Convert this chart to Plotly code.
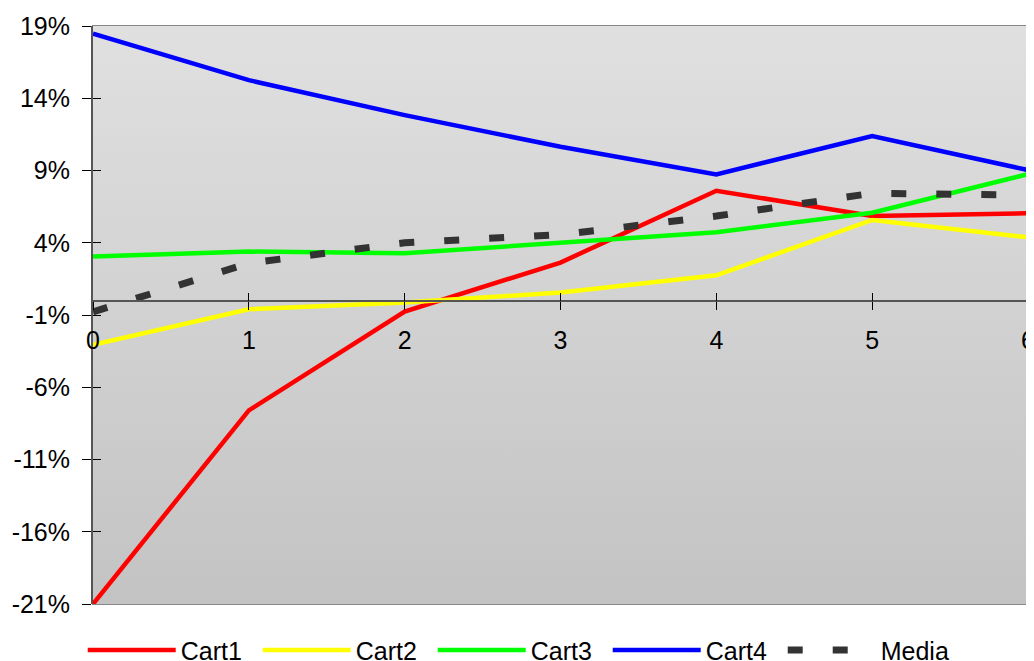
import plotly.graph_objects as go

x_vals = [0, 1, 2, 3, 4, 5, 6]
cart1 = [-21.0, -7.6, -0.76, 2.63, 7.6, 5.85, 6.04]
cart2 = [-3.06, -0.6, -0.14, 0.55, 1.75, 5.58, 4.38]
cart3 = [3.04, 3.39, 3.27, 4.03, 4.72, 6.08, 8.75]
cart4 = [18.47, 15.25, 12.83, 10.64, 8.73, 11.38, 9.03]
media = [-0.78, 2.58, 4.0, 4.56, 5.85, 7.42, 7.3]

y_tickvals = [-21, -16, -11, -6, -1, 4, 9, 14, 19]
y_ticktext = ["-21%", "-16%", "-11%", "-6%", "-1%", "4%", "9%", "14%", "19%"]

Y_MIN, Y_MAX = -21, 19
X_MIN, X_MAX = 0, 6

FONT = "Liberation Sans, Arial, sans-serif"

fig = go.Figure()

# background gradient
fig.add_trace(go.Scatter(
    x=[X_MIN, X_MAX, X_MAX, X_MIN, X_MIN], y=[Y_MIN, Y_MIN, Y_MAX, Y_MAX, Y_MIN],
    fill="toself", mode="none", showlegend=False, hoverinfo="skip",
    fillgradient=dict(type="vertical", start=Y_MIN, stop=Y_MAX,
                      colorscale=[[0, "#c3c3c3"], [1, "#e0e0e0"]]),
))

series = [("Cart1", cart1, "#ff0000"), ("Cart2", cart2, "#ffff00"),
          ("Cart3", cart3, "#00ff00"), ("Cart4", cart4, "#0000ff")]
for name, vals, col in series:
    fig.add_trace(go.Scatter(x=x_vals, y=vals, name=name, mode="lines",
                             line=dict(color=col, width=4.5), cliponaxis=False))
fig.add_trace(go.Scatter(x=x_vals, y=media, name="Media", mode="lines",
                         line=dict(color="#333333", width=7, dash="15px,30px")))

pos0 = (0 - Y_MIN) / (Y_MAX - Y_MIN)

fig.update_layout(
    width=1026, height=653,
    margin=dict(l=85, r=6, t=18, b=57, autoexpand=False),
    paper_bgcolor="white", plot_bgcolor="rgba(0,0,0,0)",
    font=dict(family=FONT, size=25, color="black"),
    showlegend=True,
    legend=dict(orientation="h", x=-0.011, xanchor="left", y=-0.08, yanchor="middle",
                font=dict(size=25), itemwidth=88, entrywidth=72,
                entrywidthmode="pixels", tracegroupgap=0,
                bgcolor="rgba(0,0,0,0)"),
    xaxis=dict(range=[X_MIN, X_MAX], tickmode="linear", tick0=0, dtick=1,
               anchor="free", position=pos0, showgrid=False, zeroline=False,
               showline=True, linecolor="#555555", linewidth=2,
               ticks="outside", ticklen=8, tickcolor="black", tickwidth=1,
               ticklabelstandoff=9, tickfont=dict(size=25),
               ticklabeloverflow="allow", automargin=False),
    xaxis2=dict(range=[X_MIN, X_MAX], tickmode="linear", tick0=0, dtick=1,
                overlaying="x", anchor="free", position=pos0, showgrid=False,
                zeroline=False, showline=False, ticks="inside", ticklen=8,
                tickcolor="black", showticklabels=False, automargin=False),
    yaxis=dict(range=[Y_MIN, Y_MAX], tickmode="array", tickvals=y_tickvals,
               ticktext=y_ticktext, showgrid=False, zeroline=False,
               showline=True, linecolor="#555555", linewidth=2,
               ticks="outside", ticklen=9, tickcolor="black",
               ticklabelstandoff=7, tickfont=dict(size=25),
               ticklabeloverflow="allow", automargin=False),
    yaxis2=dict(range=[Y_MIN, Y_MAX], tickmode="array", tickvals=y_tickvals,
                overlaying="y", anchor="x", showgrid=False, zeroline=False,
                showline=False, ticks="inside", ticklen=8, tickcolor="black",
                showticklabels=False, automargin=False),
    shapes=[dict(type="rect", xref="paper", yref="paper", x0=0, x1=1, y0=0, y1=1,
                 line=dict(color="#888888", width=2), fillcolor="rgba(0,0,0,0)",
                 layer="below")],
)

# dummy trace to activate secondary axes for crossing ticks
fig.add_trace(go.Scatter(x=[None], y=[None], xaxis="x2", yaxis="y2",
                         showlegend=False, hoverinfo="skip"))

fig.write_html("out.html")
